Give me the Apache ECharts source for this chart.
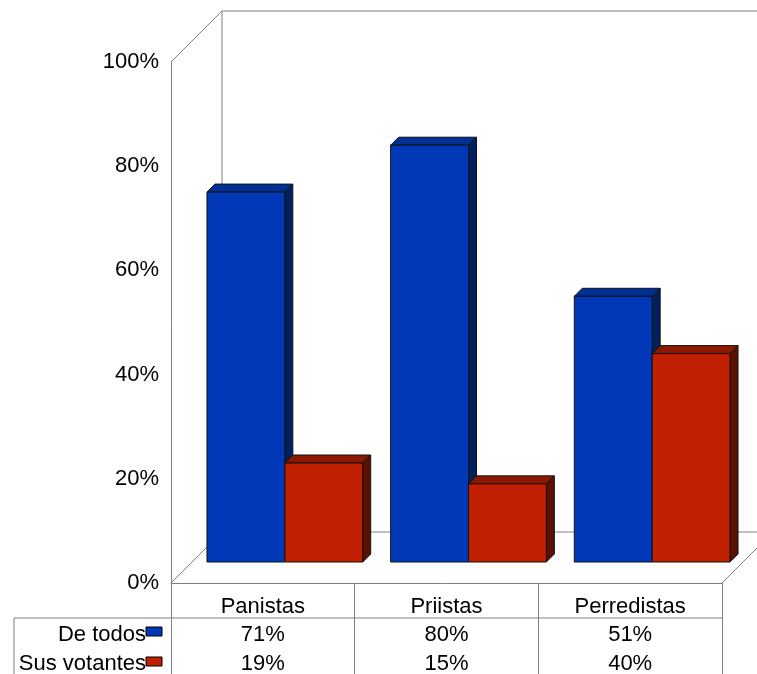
<!DOCTYPE html>
<html>
<head>
<meta charset="utf-8">
<script src="https://cdn.jsdelivr.net/npm/echarts@6/dist/echarts.min.js"></script>
<style>
  html, body { margin: 0; padding: 0; background: #fff; }
  #chart { width: 757px; height: 674px; }
</style>
</head>
<body>
<div id="chart"></div>
<script>
// ---- data ----
const categories = ['Panistas', 'Priistas', 'Perredistas'];
const seriesNames = ['De todos', 'Sus votantes'];
const deTodos = [71, 80, 51];
const susVotantes = [19, 15, 40];
const tableRowDeTodos = ['71%', '80%', '51%'];
const tableRowSusVotantes = ['19%', '15%', '40%'];

// ---- style ----
const FONT = '"Liberation Sans", Arial, sans-serif';
const FS = 22;
const GRAY = '#808080';
const DEPTH = 51;        // floor depth (px)
const BAR_FRONT_X = 22;  // bar front plane offset
const BAR_FRONT_Y = 21;
const BAR_DEPTH = 8;     // bar thickness
const BAR_FRAC = 78 / 184;
const colors = [
  { front: '#0038B8', top: '#003096', side: '#00205E' },
  { front: '#C02000', top: '#8C1800', side: '#5C1000' }
];

const chart = echarts.init(document.getElementById('chart'), null, { renderer: 'canvas' });

function frameRender(params, api) {
  if (params.dataIndex !== 0) return null;
  const band = api.size([1, 0])[0];
  const p0 = api.coord([0, 0]);
  const pTop = api.coord([0, 100]);
  const x0 = p0[0] - band / 2;
  const y0 = p0[1];
  const yT = pTop[1];
  const xR = x0 + band * categories.length;
  const D = DEPTH;
  const ls = { stroke: GRAY, lineWidth: 1 };
  const line = (a, b, c, d) => ({ type: 'line', shape: { x1: a, y1: b, x2: c, y2: d }, style: ls, silent: true });
  return {
    type: 'group',
    children: [
      line(x0, y0, x0 + D, y0 - D),
      line(x0, yT, x0 + D, yT - D),
      line(x0 + D, yT - D, x0 + D, y0 - D),
      line(x0 + D, yT - D, xR + D + 50, yT - D),
      line(x0 + D, y0 - D, xR + D, y0 - D),
      line(xR, y0, xR + D, y0 - D)
    ]
  };
}

function makeBarRender(k) {
  return function (params, api) {
    const i = api.value(0);
    const v = api.value(1);
    const band = api.size([1, 0])[0];
    const barW = band * BAR_FRAC;
    const c = api.coord([i, v]);
    const b = api.coord([i, 0]);
    const d = BAR_DEPTH;
    const xl = (k === 0 ? c[0] - barW : c[0]) + BAR_FRONT_X;
    const xr = xl + barW;
    const yt = c[1] - BAR_FRONT_Y;
    const yb = b[1] - BAR_FRONT_Y;
    const col = colors[k];
    const stroke = { stroke: '#111', lineWidth: 1, lineJoin: 'round' };
    return {
      type: 'group',
      children: [
        { type: 'polygon', shape: { points: [[xl, yt], [xl + d, yt - d], [xr + d, yt - d], [xr, yt]] },
          style: Object.assign({ fill: col.top }, stroke) },
        { type: 'polygon', shape: { points: [[xr, yt], [xr + d, yt - d], [xr + d, yb - d], [xr, yb]] },
          style: Object.assign({ fill: col.side }, stroke) },
        { type: 'rect', shape: { x: xl, y: yt, width: barW, height: yb - yt },
          style: Object.assign({ fill: col.front }, stroke) }
      ]
    };
  };
}

function tableRender(params, api) {
  const i = api.value(0);
  const band = api.size([1, 0])[0];
  const p = api.coord([i, 0]);
  const y0 = p[1];
  const cx = p[0];
  const txt = (t, x, y, align) => ({
    type: 'text', silent: true,
    style: { text: t, x: x, y: y, align: align, verticalAlign: 'middle', fill: '#000', font: FS + 'px ' + FONT }
  });
  const children = [
    txt(tableRowDeTodos[i], cx, y0 + 52, 'center'),
    txt(tableRowSusVotantes[i], cx, y0 + 81, 'center')
  ];
  if (i === 0) {
    const xL = cx - band / 2;
    const xR = xL + band * categories.length;
    const ls = { stroke: GRAY, lineWidth: 1 };
    children.push(
      { type: 'line', shape: { x1: xL - 157, y1: y0 + 35, x2: xR, y2: y0 + 35 }, style: ls },
      { type: 'line', shape: { x1: xL - 157, y1: y0 + 35, x2: xL - 157, y2: y0 + 200 }, style: ls },
      txt(seriesNames[0], xL - 25, y0 + 52, 'right'),
      txt(seriesNames[1], xL - 25, y0 + 81, 'right'),
      { type: 'rect', shape: { x: xL - 25, y: y0 + 44, width: 16, height: 9 },
        style: { fill: colors[0].front, stroke: '#000', lineWidth: 1 } },
      { type: 'rect', shape: { x: xL - 25, y: y0 + 74, width: 16, height: 9 },
        style: { fill: colors[1].front, stroke: '#000', lineWidth: 1 } }
    );
  }
  return { type: 'group', children: children };
}

const option = {
  animation: false,
  backgroundColor: '#fff',
  grid: { left: 171, right: 35, top: 62, bottom: 91, containLabel: false },
  xAxis: {
    type: 'category',
    data: categories,
    boundaryGap: true,
    axisLine: { show: true, lineStyle: { color: GRAY, width: 1 } },
    axisTick: { show: true, length: 100, interval: 0, lineStyle: { color: GRAY, width: 1 } },
    axisLabel: { interval: 0, margin: 13, color: '#000', fontSize: FS, fontFamily: FONT, lineHeight: 22 },
    splitLine: { show: false }
  },
  yAxis: {
    type: 'value',
    min: 0, max: 100, interval: 20,
    axisLine: { show: true, lineStyle: { color: GRAY, width: 1 } },
    axisTick: { show: false },
    axisLabel: { formatter: '{value}%', margin: 12, color: '#000', fontSize: FS, fontFamily: FONT,
                 padding: [5, 0, 0, 0] },
    splitLine: { show: false }
  },
  series: [
    { type: 'custom', name: 'frame', z: 1, clip: false, renderItem: frameRender, data: [[0, 0]], silent: true },
    { type: 'custom', name: seriesNames[0], z: 2, clip: false, renderItem: makeBarRender(0),
      data: deTodos.map((v, i) => [i, v]), encode: { x: 0, y: 1 } },
    { type: 'custom', name: seriesNames[1], z: 3, clip: false, renderItem: makeBarRender(1),
      data: susVotantes.map((v, i) => [i, v]), encode: { x: 0, y: 1 } },
    { type: 'custom', name: 'table', z: 4, clip: false, renderItem: tableRender,
      data: categories.map((c, i) => [i, 0]), encode: { x: 0, y: 1 }, silent: true }
  ]
};
chart.setOption(option);
</script>
</body>
</html>
